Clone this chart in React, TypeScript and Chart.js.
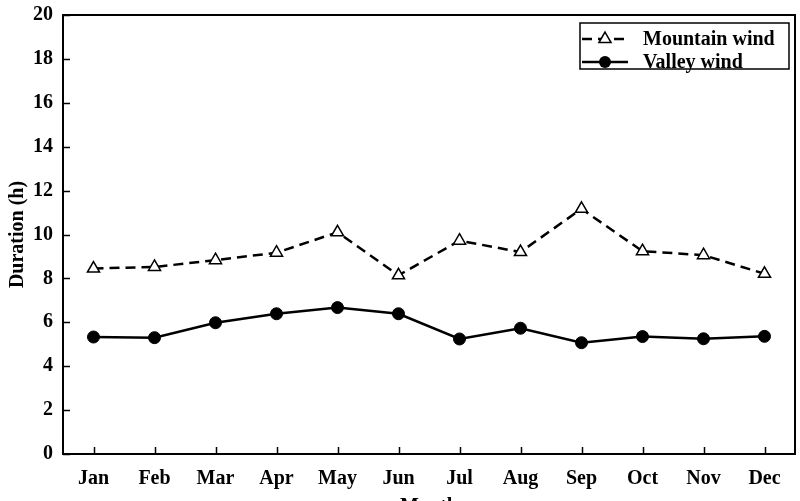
import React, { useEffect, useRef } from "react";
import { Chart, registerables } from "chart.js";

Chart.register(...registerables);

const months = ["Jan", "Feb", "Mar", "Apr", "May", "Jun", "Jul", "Aug", "Sep", "Oct", "Nov", "Dec"];
const mountainWind = [8.45, 8.52, 8.83, 9.17, 10.1, 8.14, 9.72, 9.2, 11.17, 9.24, 9.06, 8.21];
const valleyWind = [5.33, 5.3, 5.98, 6.39, 6.67, 6.39, 5.24, 5.73, 5.07, 5.35, 5.25, 5.36];
const seriesNames = ["Mountain wind", "Valley wind"];
const yMin = 0;
const yMax = 20;
const yStep = 2;

const FONT = "'Liberation Serif', 'Times New Roman', serif";
const FS = 20;

const framePlugin = {
  id: "frame",
  afterDraw(chart: any) {
    const { ctx, chartArea } = chart;
    const xs = chart.scales.x;
    const ys = chart.scales.y;
    ctx.save();
    ctx.strokeStyle = "#000";
    ctx.lineWidth = 2;
    ctx.strokeRect(chartArea.left, chartArea.top, chartArea.right - chartArea.left, chartArea.bottom - chartArea.top);
    ctx.lineWidth = 1.5;
    ctx.beginPath();
    ys.ticks.forEach((t: any) => {
      const y = Math.round(ys.getPixelForValue(t.value)) + 0.5;
      ctx.moveTo(chartArea.left, y);
      ctx.lineTo(chartArea.left + 7, y);
    });
    xs.ticks.forEach((_t: any, i: number) => {
      const x = Math.round(xs.getPixelForTick(i)) + 0.5;
      ctx.moveTo(x, chartArea.bottom);
      ctx.lineTo(x, chartArea.bottom - 7);
    });
    ctx.stroke();

    // legend
    const bx = chartArea.right - 215;
    const by = chartArea.top + 8;
    const bw = 209;
    const bh = 46;
    ctx.lineWidth = 1.5;
    ctx.strokeRect(bx, by, bw, bh);
    const rows = [by + 16, by + 39];
    chart.data.datasets.forEach((ds: any, i: number) => {
      const y = rows[i];
      ctx.lineWidth = 2.5;
      ctx.setLineDash(ds.borderDash || []);
      ctx.beginPath();
      ctx.moveTo(bx + 2, y);
      ctx.lineTo(bx + 48, y);
      ctx.stroke();
      ctx.setLineDash([]);
      const cx = bx + 25;
      if (ds.pointStyle === "triangle") {
        const r = 7;
        ctx.beginPath();
        ctx.moveTo(cx, y - r);
        ctx.lineTo(cx + r * Math.sin((2 * Math.PI) / 3), y - r * Math.cos((2 * Math.PI) / 3));
        ctx.lineTo(cx + r * Math.sin((4 * Math.PI) / 3), y - r * Math.cos((4 * Math.PI) / 3));
        ctx.closePath();
        ctx.fillStyle = "#fff";
        ctx.fill();
        ctx.lineWidth = 1.5;
        ctx.stroke();
      } else {
        ctx.beginPath();
        ctx.arc(cx, y, 6, 0, Math.PI * 2);
        ctx.fillStyle = "#000";
        ctx.fill();
      }
      ctx.fillStyle = "#000";
      ctx.font = `bold ${FS}px ${FONT}`;
      ctx.textAlign = "left";
      ctx.textBaseline = "middle";
      ctx.fillText(ds.label, bx + 63, y + 1);
    });
    ctx.restore();
  },
};

export default function App() {
  const ref = useRef<HTMLCanvasElement | null>(null);
  useEffect(() => {
    if (!ref.current) return;
    const chart = new Chart(ref.current, {
      type: "line",
      data: {
        labels: months,
        datasets: [
          {
            label: seriesNames[0],
            data: mountainWind,
            borderColor: "#000",
            borderWidth: 2.5,
            borderDash: [10, 6],
            pointStyle: "triangle",
            pointRadius: 7,
            pointBackgroundColor: "#fff",
            pointBorderColor: "#000",
            pointBorderWidth: 1.5,
            tension: 0,
          },
          {
            label: seriesNames[1],
            data: valleyWind,
            borderColor: "#000",
            borderWidth: 2.5,
            pointStyle: "circle",
            pointRadius: 6,
            pointBackgroundColor: "#000",
            pointBorderColor: "#000",
            pointBorderWidth: 1,
            tension: 0,
          },
        ],
      },
      options: {
        animation: false,
        responsive: true,
        maintainAspectRatio: false,
        layout: { autoPadding: false, padding: { left: 0, right: 5, top: 15, bottom: 0 } },
        plugins: { legend: { display: false }, tooltip: { enabled: false } },
        scales: {
          x: {
            offset: true,
            grid: { display: false, drawTicks: false },
            border: { display: false },
            ticks: { color: "#000", font: { family: FONT, size: FS, weight: "bold" }, padding: 13 },
            title: { display: true, text: "Month", color: "#000", font: { family: FONT, size: FS, weight: "bold" } },
            afterFit: (s: any) => {
              s.height = 69;
              s.paddingLeft = 0;
              s.paddingRight = 0;
            },
          },
          y: {
            min: yMin,
            max: yMax,
            grid: { display: false, drawTicks: false },
            border: { display: false },
            ticks: { stepSize: yStep, color: "#000", font: { family: FONT, size: FS, weight: "bold" }, padding: 10 },
            title: {
              display: true,
              text: "Duration (h)",
              color: "#000",
              font: { family: FONT, size: FS, weight: "bold" },
              padding: { top: 6, bottom: 0 },
            },
            afterFit: (s: any) => {
              s.width = 63;
              s.paddingTop = 0;
              s.paddingBottom = 0;
            },
          },
        },
      },
      plugins: [framePlugin],
    });
    return () => chart.destroy();
  }, []);
  return (
    <div style={{ position: "fixed", left: 0, top: 0, width: 800, height: 501, overflow: "hidden", background: "#fff" }}>
      <div style={{ position: "relative", width: 800, height: 523 }}>
        <canvas ref={ref} />
      </div>
    </div>
  );
}
